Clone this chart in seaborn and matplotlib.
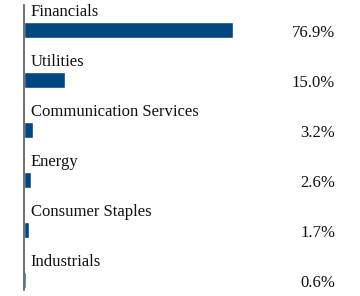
import seaborn as sns
import matplotlib.pyplot as plt
import matplotlib.transforms as mtransforms
import pandas as pd

# sector weights
sectors = ["Financials", "Utilities", "Communication Services", "Energy",
           "Consumer Staples", "Industrials"]
weights = [76.9, 15.0, 3.2, 2.6, 1.7, 0.6]
labels = ["76.9%", "15.0%", "3.2%", "2.6%", "1.7%", "0.6%"]

df = pd.DataFrame({"sector": sectors, "weight": weights})

sns.set_style("white")
plt.rcParams["font.family"] = ["Liberation Serif", "DejaVu Serif"]

fig = plt.figure(figsize=(3.6, 2.96), dpi=100)
ax = fig.add_axes([24 / 360, 6 / 296, (340 - 24) / 360, 285 / 296])

sns.barplot(data=df, x="weight", y="sector", orient="h", color="#00467f",
            saturation=1, width=0.32, ax=ax)

ax.set_xlim(0, (340 - 24) / 2.72)
ax.set_ylim(5.2, -0.5)

trans = mtransforms.blended_transform_factory(ax.transAxes, ax.transData)
for i, (name, lab) in enumerate(zip(sectors, labels)):
    ax.text(2.5, i - 0.27, name, ha="left", va="baseline", fontsize=12,
            color="#111111")
    ax.text((335 - 24) / 316, i + 0.14, lab, transform=trans, ha="right",
            va="baseline", fontsize=12, color="#111111")

ax.set_xticks([])
ax.set_yticks([])
ax.set_xlabel("")
ax.set_ylabel("")
for s in ["top", "right", "bottom"]:
    ax.spines[s].set_visible(False)
ax.spines["left"].set_color("#555555")
ax.spines["left"].set_linewidth(1.2)

fig.savefig("out.png", dpi=100)
